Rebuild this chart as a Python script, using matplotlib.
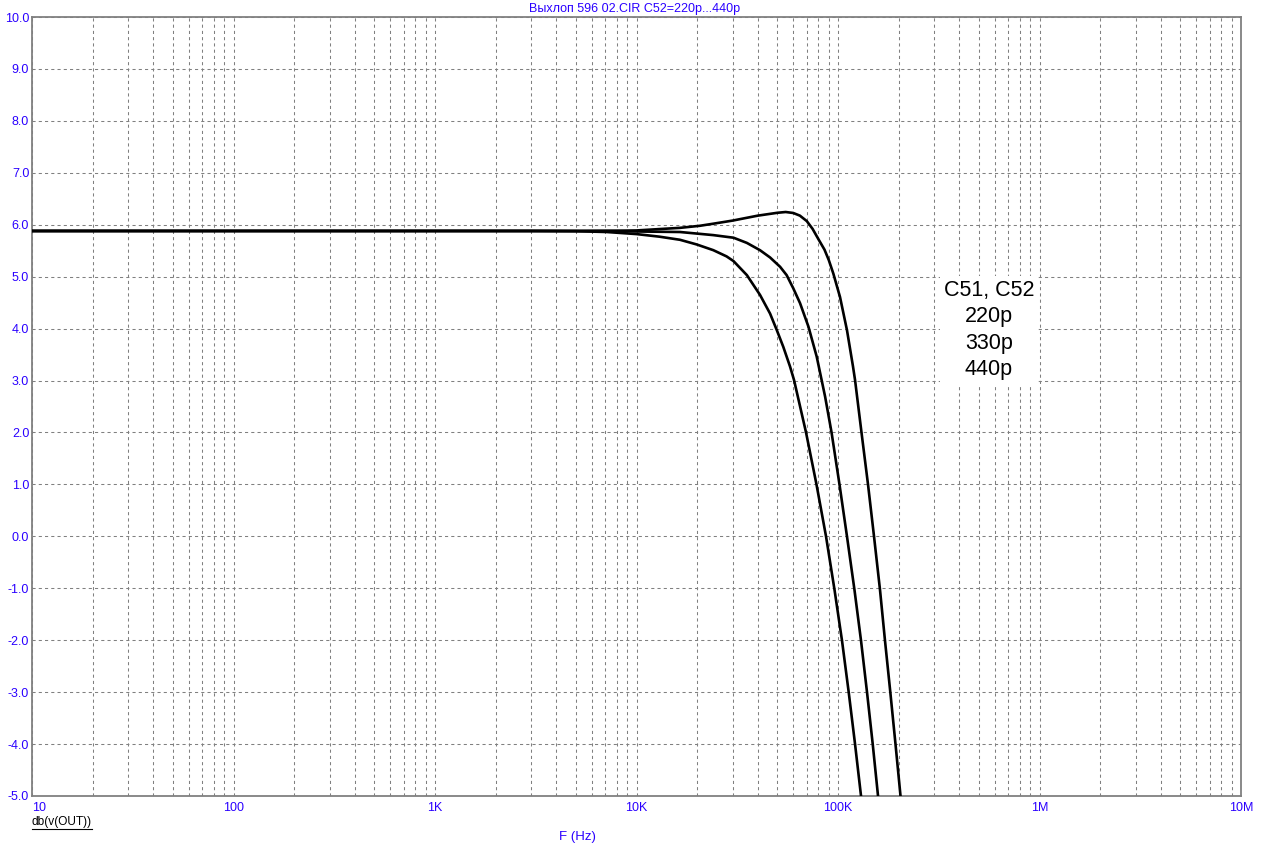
import numpy as np
import matplotlib
matplotlib.use("Agg")
import matplotlib.pyplot as plt
from matplotlib.ticker import FixedLocator, NullFormatter, LogLocator

plt.rcParams['font.family'] = ['Liberation Sans', 'DejaVu Sans']

# ---- data (Hz, dB) ----
freq_c = [10, 1000, 3000, 5050, 7100, 10000, 16440, 20660, 24060, 30000, 40000,
          50000, 55000, 60000, 64700, 70000, 74800, 80000, 85700, 90000, 94800,
          102300, 110800, 118700, 121500, 130800, 140900, 150900, 161600, 171100,
          181800, 192900, 204300]
db_c = [5.88, 5.88, 5.88, 5.88, 5.883, 5.89, 5.94, 5.98, 6.02, 6.08, 6.175,
        6.23, 6.245, 6.226, 6.175, 6.07, 5.92, 5.72, 5.52, 5.32, 5.06,
        4.61, 3.97, 3.27, 3.01, 2.00, 1.00, 0.00, -1.03, -2.01,
        -3.00, -4.00, -5.00]

freq_b = [10, 1000, 3000, 5050, 7100, 10000, 16440, 19900, 24060, 30300, 35300,
          41000, 46000, 51600, 55600, 60000, 64800, 71300, 78400, 86300, 92900,
          101700, 110800, 120700, 130100, 139300, 148700, 158000]
db_b = [5.88, 5.88, 5.88, 5.88, 5.88, 5.87, 5.86, 5.83, 5.80, 5.75, 5.65,
        5.51, 5.37, 5.19, 5.03, 4.775, 4.49, 4.04, 3.46, 2.69, 2.00,
        1.00, 0.00, -1.03, -2.01, -3.00, -4.00, -5.00]

freq_a = [10, 1000, 3000, 5050, 7100, 10000, 13000, 16440, 19900, 24060, 28000,
          30300, 35300, 41000, 46000, 49700, 53500, 57800, 60500, 69400, 78200,
          87200, 96100, 104700, 113000, 121500, 130100]
db_a = [5.88, 5.88, 5.88, 5.875, 5.86, 5.82, 5.77, 5.71, 5.62, 5.51, 5.39,
        5.30, 5.03, 4.65, 4.29, 3.97, 3.65, 3.27, 3.01, 2.00, 1.00,
        0.00, -1.03, -2.01, -3.00, -4.00, -5.00]

x_ticks = [10, 100, 1e3, 1e4, 1e5, 1e6, 1e7]
x_labels = ['10', '100', '1K', '10K', '100K', '1M', '10M']
y_ticks = list(range(-5, 11))

title = 'Выхлоп 596 02.CIR C52=220p...440p'
legend_lines = ['C51, C52', '220p', '330p', '440p']

blue = '#2a00ff'
grid_gray = '#808080'

W, H = 1276, 851
fig = plt.figure(figsize=(W / 100, H / 100), dpi=100)
ax = fig.add_axes([32 / W, 1 - 796 / H, (1241 - 32) / W, (796 - 17) / H])

ax.set_xscale('log')
ax.set_xlim(10, 1e7)
ax.set_ylim(-5, 10)

for f, d in ((freq_a, db_a), (freq_b, db_b), (freq_c, db_c)):
    ax.plot(f, d, color='black', lw=1.9, solid_joinstyle='round',
            solid_capstyle='round', zorder=3, clip_on=True)

ax.xaxis.set_major_locator(FixedLocator(x_ticks))
ax.set_xticklabels(x_labels)
ax.xaxis.set_minor_locator(LogLocator(base=10, subs=np.arange(2, 10)))
ax.xaxis.set_minor_formatter(NullFormatter())
ax.set_yticks(y_ticks)
ax.set_yticklabels([f'{v:.1f}' for v in y_ticks])

ax.tick_params(axis='both', which='both', length=0, colors=blue, labelsize=9)
ax.tick_params(axis='x', pad=4)
ax.tick_params(axis='y', pad=2)
xl = ax.get_xticklabels()
xl[0].set_horizontalalignment('left')

ax.grid(True, which='both', axis='x', color=grid_gray, lw=0.75, linestyle=(0, (3, 3)))
ax.grid(True, which='major', axis='y', color=grid_gray, lw=0.75, linestyle=(0, (3, 3)))
ax.set_axisbelow(True)
for s in ax.spines.values():
    s.set_color(grid_gray)
    s.set_linewidth(1.3)

fig.text((0.5 * (32 + 1241) - 2) / W, 1 - 9 / H, title, color=blue, fontsize=9,
         ha='center', va='center')
fig.text(577 / W, 1 - 837 / H, 'F (Hz)', color=blue, fontsize=9.5, ha='center', va='center')
lbl = fig.text(32 / W, 1 - 822 / H, 'db(v(OUT))', color='black', fontsize=8.6,
               ha='left', va='center')

ax.text((989 - 32) / 1209, (796 - 330) / 779, '\n'.join(legend_lines),
        transform=ax.transAxes, fontsize=15.5,
        ha='center', va='center', multialignment='center', linespacing=1.34,
        color='black', zorder=5,
        bbox=dict(facecolor='white', edgecolor='none', pad=3))

# underline the y-quantity label
fig.canvas.draw()
bb = lbl.get_window_extent(renderer=fig.canvas.get_renderer())
fig.add_artist(plt.Line2D([bb.x0 / W, bb.x1 / W], [(bb.y0 - 1) / H, (bb.y0 - 1) / H],
                          color='black', lw=0.8))

fig.savefig('out.png', dpi=100, facecolor='white')
